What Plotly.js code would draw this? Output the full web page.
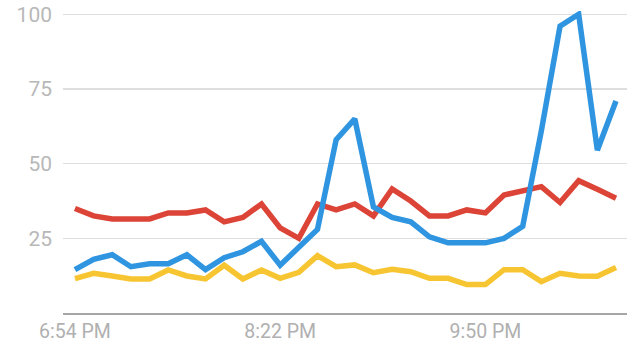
<!DOCTYPE html>
<html>
<head>
<meta charset="utf-8">
<script src="https://cdn.plot.ly/plotly-3.0.1.min.js"></script>
<style>html,body{margin:0;padding:0;background:#fff;}#chart{width:635px;height:357px;}</style>
</head>
<body>
<div id="chart"></div>
<script>
const times = ["6:54 PM","7:02 PM","7:10 PM","7:18 PM","7:26 PM","7:34 PM","7:42 PM","7:50 PM","7:58 PM","8:06 PM",
  "8:14 PM","8:22 PM","8:30 PM","8:38 PM","8:46 PM","8:54 PM","9:02 PM","9:10 PM","9:18 PM","9:26 PM",
  "9:34 PM","9:42 PM","9:50 PM","9:58 PM","10:06 PM","10:14 PM","10:22 PM","10:30 PM","10:38 PM","10:46 PM"];
const blueValues = [14.5, 18, 19.5, 15.5, 16.5, 16.5, 19.5, 14.5, 18.5, 20.5, 24, 16, 22, 28, 58, 65, 35.5, 32, 30.5, 25.5, 23.5, 23.5, 23.5, 25, 29, 61, 96, 100, 54.5, 71];
const redValues = [35, 32.5, 31.5, 31.5, 31.5, 33.5, 33.5, 34.5, 30.5, 32, 36.5, 28.5, 25, 36.5, 34.5, 36.5, 32.5, 41.5, 37.5, 32.5, 32.5, 34.5, 33.5, 39.5, 41, 42.3, 37, 44.3, 41.4, 38.4];
const yellowValues = [11.5, 13.3, 12.4, 11.4, 11.4, 14.4, 12.4, 11.4, 16, 11.4, 14.4, 11.6, 13.6, 19.2, 15.5, 16.1, 13.5, 14.6, 13.8, 11.6, 11.6, 9.5, 9.5, 14.5, 14.5, 10.5, 13.3, 12.4, 12.3, 15.2];
const xTickLabels = ["6:54 PM", "8:22 PM", "9:50 PM"];
const yTickValues = [25, 50, 75, 100];

const mk = (y, color) => ({x: times, y: y, type: 'scatter', mode: 'lines', line: {color: color, width: 5.5, shape: 'linear'}, hoverinfo: 'skip'});
const data = [mk(yellowValues, '#f7c531'), mk(redValues, '#dc4437'), mk(blueValues, '#2f95e0')];
const layout = {
  width: 635, height: 357,
  margin: {l: 63, r: 8, t: 11, b: 44, pad: 0},
  paper_bgcolor: '#fff', plot_bgcolor: '#fff',
  showlegend: false,
  font: {family: 'Roboto, sans-serif', size: 20, color: '#b3b3b3'},
  xaxis: {type: 'category', range: [-0.64, 29.59], tickvals: xTickLabels, ticktext: xTickLabels,
    showgrid: false, zeroline: false, showline: true, linecolor: '#a6a6a6', linewidth: 2,
    ticks: '', tickfont: {size: 19.5, color: '#b0b0b0'}},
  yaxis: {range: [0, 101.1], tickvals: yTickValues, showgrid: true, gridcolor: '#dedede', gridwidth: 1.5,
    zeroline: false, showline: false, ticks: '', ticklabelstandoff: 10, tickfont: {size: 21, color: '#b8b8b8'}}
};
Plotly.newPlot('chart', data, layout, {displayModeBar: false, staticPlot: true});
</script>
</body>
</html>
